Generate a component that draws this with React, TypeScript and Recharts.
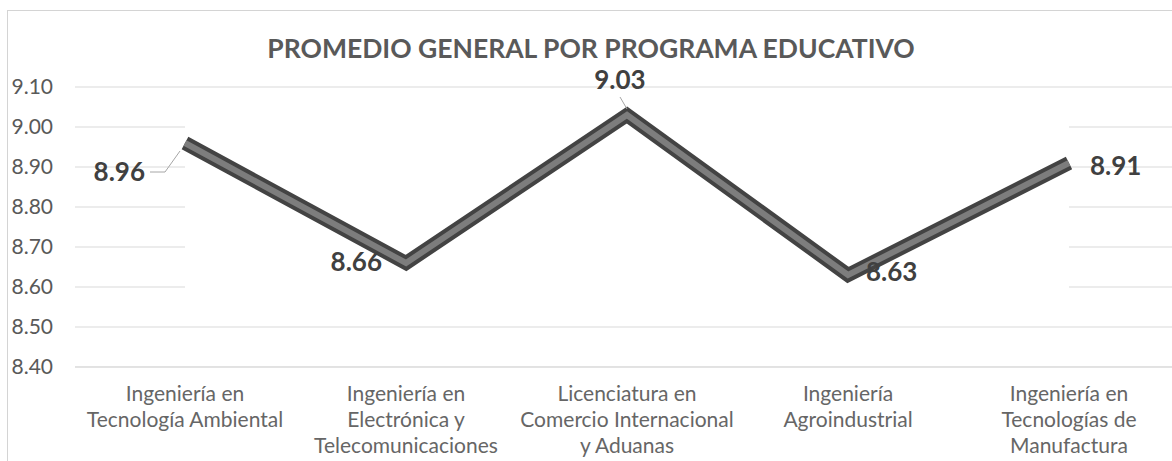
import { LineChart, Line, XAxis, YAxis, CartesianGrid, ReferenceArea, LabelList } from 'recharts'

const categories = [
  'Ingeniería en\nTecnología Ambiental',
  'Ingeniería en\nElectrónica y\nTelecomunicaciones',
  'Licenciatura en\nComercio Internacional\ny Aduanas',
  'Ingeniería\nAgroindustrial',
  'Ingeniería en\nTecnologías de\nManufactura',
]
const promedios = [8.96, 8.66, 9.03, 8.63, 8.91]
const yTicks = [8.4, 8.5, 8.6, 8.7, 8.8, 8.9, 9.0, 9.1]

const data = categories.map((programa, i) => ({ programa, promedio: promedios[i] }))

const FONT = 'Lato, "Open Sans", sans-serif'
const GRAY = '#595959'

// where each data label sits relative to its point (like the Excel original)
const labelPlaces = [
  { dx: -40, dy: 38, anchor: 'end', leader: 'left' },
  { dx: -24, dy: 8, anchor: 'end', leader: '' },
  { dx: -7, dy: -26, anchor: 'middle', leader: 'top' },
  { dx: 18, dy: 6, anchor: 'start', leader: '' },
  { dx: 21, dy: 12, anchor: 'start', leader: '' },
]

function CategoryTick({ x, y, payload }: any) {
  const lines = String(payload.value).split('\n')
  return (
    <text x={x} y={y} textAnchor="middle" fill="#666666" fontSize={21} fontFamily={FONT}>
      {lines.map((l, i) => (
        <tspan key={i} x={x} dy={i === 0 ? 26 : 26}>
          {l}
        </tspan>
      ))}
    </text>
  )
}

function ValueLabel(props: any) {
  const { x, y, value, index } = props
  const p = labelPlaces[index]
  if (!p) return null
  return (
    <g>
      {p.leader === 'left' && (
        <polyline
          points={`${x - 35},${y + 29} ${x - 20},${y + 29} ${x - 5},${y + 8}`}
          fill="none"
          stroke="#a6a6a6"
          strokeWidth={1}
        />
      )}
      {p.leader === 'top' && (
        <line x1={x - 7} y1={y - 18} x2={x} y2={y - 6} stroke="#a6a6a6" strokeWidth={1} />
      )}
      <text
        x={x + p.dx}
        y={y + p.dy}
        textAnchor={p.anchor}
        fill="#404040"
        fontSize={26}
        fontWeight="bold"
        fontFamily={FONT}
      >
        {Number(value).toFixed(2)}
      </text>
    </g>
  )
}

export default function App() {
  return (
    <div
      style={{
        position: 'fixed',
        left: 0,
        top: 0,
        width: 1172,
        height: 461,
        overflow: 'hidden',
        background: '#fff',
      }}
    >
      <div
        style={{
          position: 'absolute',
          left: 7,
          top: 10,
          width: 1200,
          height: 500,
          border: '1px solid #d4d4d4',
        }}
      />
      <div
        style={{
          position: 'absolute',
          left: 0,
          top: 35,
          width: 1182,
          textAlign: 'center',
          fontFamily: FONT,
          fontWeight: 'bold',
          fontSize: 26.5,
          lineHeight: '26px',
          color: GRAY,
          zIndex: 2,
        }}
      >
        PROMEDIO GENERAL POR PROGRAMA EDUCATIVO
      </div>
      <div style={{ position: 'absolute', left: 0, top: 0 }}>
        <LineChart width={1200} height={470} data={data} margin={{ top: 87, right: 20, bottom: 13, left: 0 }}>
          <CartesianGrid horizontal vertical={false} stroke="#d9d9d9" />
          <ReferenceArea
            x1={categories[0]}
            x2={categories[categories.length - 1]}
            y1={8.55}
            y2={9.05}
            fill="#fff"
            fillOpacity={1}
            stroke="none"
          />
          <XAxis
            dataKey="programa"
            padding={{ left: 110, right: 111 }}
            height={90}
            interval={0}
            tickLine={false}
            axisLine={{ stroke: '#d9d9d9' }}
            tick={<CategoryTick />}
          />
          <YAxis
            width={75}
            domain={[8.4, 9.1]}
            ticks={yTicks}
            axisLine={false}
            tickLine={false}
            tickMargin={16}
            tickFormatter={(v: number) => v.toFixed(2)}
            tick={{ fill: GRAY, fontSize: 21, fontFamily: FONT }}
          />
          <Line
            dataKey="promedio"
            stroke="#434343"
            strokeWidth={14}
            strokeLinejoin="miter"
            dot={false}
            activeDot={false}
            isAnimationActive={false}
          >
            <LabelList dataKey="promedio" content={<ValueLabel />} />
          </Line>
          <Line
            dataKey="promedio"
            stroke="#7d7d7d"
            strokeWidth={6}
            strokeLinejoin="miter"
            dot={false}
            activeDot={false}
            isAnimationActive={false}
          />
        </LineChart>
      </div>
    </div>
  )
}
